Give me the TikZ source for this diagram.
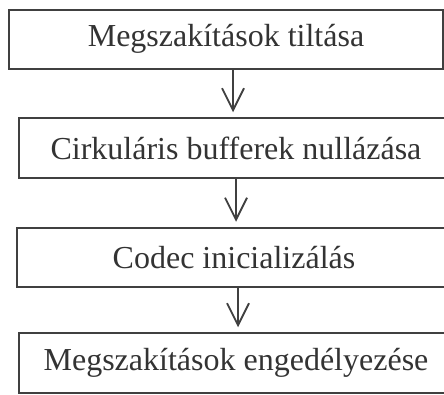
\documentclass[tikz,border=0pt]{standalone}
\usepackage{fontspec}
\setmainfont{Liberation Serif}
\usetikzlibrary{arrows.meta}
\begin{document}
\begin{tikzpicture}[x=1pt,y=-1pt,
stage/.style={draw=black!75, line width=2pt, minimum width=434pt, minimum height=59.5pt,
  inner sep=0pt, text=black!80, font=\fontsize{32}{36}\selectfont},
flow/.style={draw=black!75, line width=1.8pt, shorten >=5pt,
  -{Straight Barb[length=22pt,width=22pt,line width=1.8pt]}}]

\useasboundingbox (0,0) rectangle (444,394);

\coordinate (Arrow1) at (233,0);
\coordinate (Arrow2) at (236,0);
\coordinate (Arrow3) at (238,0);

\node[stage] (Tiltas) at (226,39.25) {Megszakítások tiltása};
\node[stage] (Nullazas) at (236,148) {Cirkuláris bufferek nullázása};
\node[stage] (Codec) at (234,257.5) {Codec inicializálás};
\node[stage] (Engedely) at (236,363) {Megszakítások engedélyezése};

\foreach \a/\b/\x in
{ Tiltas/Nullazas/Arrow1,
    Nullazas/Codec/Arrow2,
    Codec/Engedely/Arrow3}
{
    \draw[flow] (\a.south -| \x) -- (\b.north -| \x);
};

\end{tikzpicture}
\end{document}
